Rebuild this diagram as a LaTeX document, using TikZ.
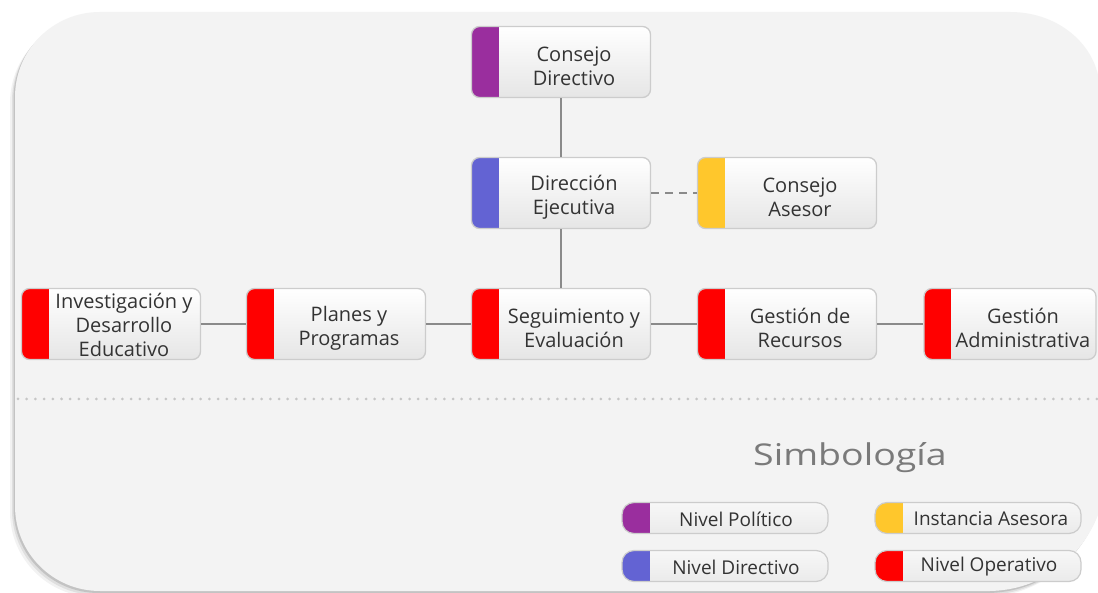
\documentclass[tikz,border=0pt]{standalone}
\usepackage{fontspec}
\setmainfont{Open Sans}
\usetikzlibrary{shadows}
\definecolor{pagebg}{HTML}{F3F3F3}
\definecolor{txt}{HTML}{333333}
\definecolor{cpurple}{HTML}{9A2E9E}
\definecolor{cblue}{HTML}{6363D3}
\definecolor{cyellow}{HTML}{FFC72C}
\definecolor{cred}{HTML}{FF0000}
\definecolor{linegray}{HTML}{8A8A8A}
\definecolor{simbgray}{HTML}{7A7A7A}
\newcommand\bgshape{(15,97) .. controls (15,50) and (53,12) .. (100,12) -- (1010,12) .. controls (1055,12) and (1090,40) .. (1098,75) -- (1098,515) .. controls (1080,560) and (1040,590) .. (990,591) -- (100,591) .. controls (53,591) and (15,553) .. (15,506) -- cycle}
\begin{document}
\begin{tikzpicture}[x=1pt,y=-1pt,
  orgbox/.style={rectangle, rounded corners=8pt, minimum width=179pt, minimum height=71pt,
    draw=gray!40, line width=1.3pt, top color=white, middle color=white, bottom color=gray!20,
    inner sep=0pt,
    path picture={\fill[#1, sharp corners] (path picture bounding box.north west) rectangle ([xshift=27pt]path picture bounding box.south west);}},
  legbox/.style={rectangle, rounded corners=12pt, minimum width=206pt, minimum height=31pt,
    draw=gray!40, line width=1.2pt, top color=gray!6, bottom color=gray!16,
    inner sep=0pt,
    path picture={\fill[#1, sharp corners] (path picture bounding box.north west) rectangle ([xshift=28pt]path picture bounding box.south west);}},
  boxtext/.style={font=\fontsize{20}{24}\selectfont, text=txt, align=center, inner sep=0pt},
  legtext/.style={font=\fontsize{19}{22}\selectfont, text=txt, inner sep=0pt},
  conn/.style={draw=linegray, line width=1.4pt},
  dconn/.style={conn, dash pattern=on 8pt off 6pt}
]
\useasboundingbox (0,0) rectangle (1098,593);
\fill[white] (0,0) rectangle (1098,593);
% page shadow and page
\fill[black, opacity=0.05, shift={(-5,6)}] \bgshape;
\fill[black, opacity=0.08, shift={(-3,4)}] \bgshape;
\fill[black, opacity=0.12, shift={(-1.5,2)}] \bgshape;
\fill[pagebg] \bgshape;
% separator
\draw[gray!45, line width=3pt, line cap=round, dash pattern=on 0pt off 8.7pt] (18,399) -- (1098,399);

% boxes
\node[orgbox=cpurple] (cd) at (561,62) {};
\node[orgbox=cblue] (de) at (561,193) {};
\node[orgbox=cyellow] (ca) at (787,193) {};
\node[orgbox=cred] (iy) at (111,324) {};
\node[orgbox=cred] (pp) at (336,324) {};
\node[orgbox=cred] (se) at (561,324) {};
\node[orgbox=cred] (gr) at (787,324) {};
\node[orgbox=cred, minimum width=172pt] (ga) at (1010,324) {};

% texts
\node[boxtext] (cdt) at ([xshift=13pt,yshift=-4.5pt]cd.center) {Consejo\\Directivo};
\node[boxtext] (det) at ([xshift=13pt,yshift=-4.5pt]de.center) {Dirección\\Ejecutiva};
\node[boxtext] (cat) at ([xshift=13pt,yshift=-4.5pt]ca.center) {Consejo\\Asesor};
\node[boxtext] (iyt) at ([xshift=13pt,yshift=-0.5pt]iy.center) {Investigación y\\Desarrollo\\Educativo};
\node[boxtext] (ppt) at ([xshift=13pt,yshift=-4pt]pp.center) {Planes y\\Programas};
\node[boxtext] (set) at ([xshift=13pt,yshift=-4pt]se.center) {Seguimiento y\\Evaluación};
\node[boxtext] (grt) at ([xshift=13pt,yshift=-4pt]gr.center) {Gestión de\\Recursos};
\node[boxtext] (gat) at ([xshift=13pt,yshift=-4pt]ga.center) {Gestión\\Administrativa};

% connectors
\draw[conn] (cd) -- (de);
\draw[conn] (de) -- (se);
\draw[dconn] (de) -- (ca);
\draw[conn] (iy) -- (pp);
\draw[conn] (pp) -- (se);
\draw[conn] (se) -- (gr);
\draw[conn] (gr) -- (ga);

% legend
\node[font=\fontsize{30}{36}\selectfont, text=simbgray, xscale=1.25, inner sep=0pt] (simb) at (850,458) {Simbología};
\node[legbox=cpurple] (lp) at (725,518) {};
\node[legbox=cyellow] (li) at (978,518) {};
\node[legbox=cblue] (ld) at (725,566) {};
\node[legbox=cred] (lo) at (978,566) {};
\node[legtext] (lpt) at ([xshift=11pt,yshift=-1pt]lp.center) {Nivel Político};
\node[legtext] (lit) at ([xshift=13pt,yshift=-1pt]li.center) {Instancia Asesora};
\node[legtext] (ldt) at ([xshift=11pt,yshift=-1pt]ld.center) {Nivel Directivo};
\node[legtext] (lot) at ([xshift=11pt,yshift=-1pt]lo.center) {Nivel Operativo};
\end{tikzpicture}
\end{document}
